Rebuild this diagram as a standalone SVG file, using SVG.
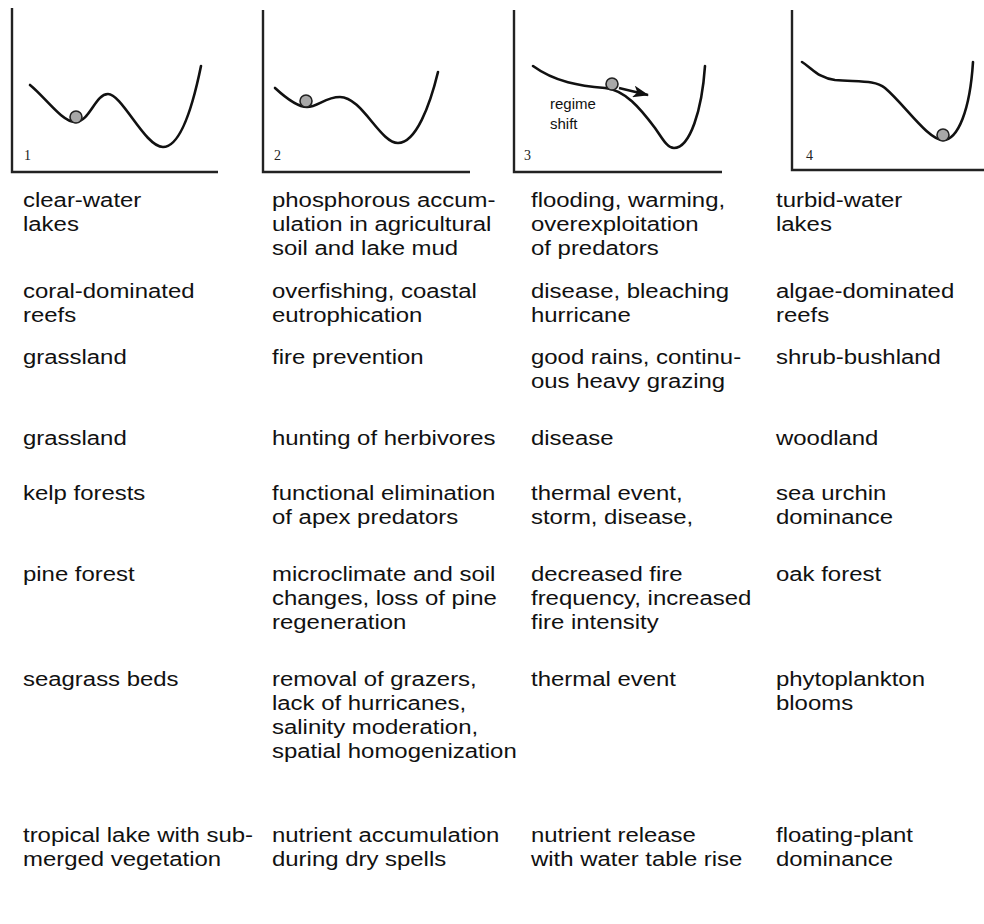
<svg xmlns="http://www.w3.org/2000/svg" width="984" height="924" viewBox="0 0 984 924">
<style>
.axis{fill:none;stroke:#222;stroke-width:2.4}
.curve{fill:none;stroke:#111;stroke-width:2.6;stroke-linecap:round;stroke-linejoin:round}
.ball{fill:#a8a8a8;stroke:#222;stroke-width:1.6}
.num{font-family:"Liberation Serif",serif;font-size:14px;fill:#222}
.t{font-family:"Liberation Sans",Arial,sans-serif;font-size:21px;fill:#111}
.small{font-family:"Liberation Sans",Arial,sans-serif;font-size:15px;fill:#111}
</style>
<defs>
<marker id="ah" markerWidth="16" markerHeight="12" refX="15" refY="6" orient="auto" markerUnits="userSpaceOnUse">
<path d="M0,0 L16,6 L0,12 L4,6 Z" fill="#111"/>
</marker>
</defs>
<rect width="984" height="924" fill="#fff"/>

<g id="panel1">
<path class="axis" d="M12,8 V172 H218"/>
<path class="curve" d="M30,85 C45,97 62,122 75,122 C90,122 95,94 108,94 C122,94 145,147 163,147 C180,147 192,110 201,66"/>
<circle class="ball" cx="76" cy="117" r="6"/>
<text class="num" x="24" y="160">1</text>
</g>

<g id="panel2">
<path class="axis" d="M263,10 V172 H470"/>
<path class="curve" d="M275,88 C288,100 298,107 307,107 C318,107 325,97 340,97 C362,97 380,143 398,143 C416,143 430,105 438,72"/>
<circle class="ball" cx="306" cy="101" r="6"/>
<text class="num" x="274" y="160">2</text>
</g>

<g id="panel3">
<path class="axis" d="M514,10 V172 H722"/>
<path class="curve" d="M533,66 C555,82 580,86 605,88 C625,90 640,108 655,128 C662,138 667,148 674,148 C690,148 702,110 705,66"/>
<circle class="ball" cx="612" cy="84" r="6"/>
<text class="small" x="550" y="109">regime</text>
<text class="small" x="550" y="129">shift</text>
<text class="num" x="524" y="160">3</text>
</g>

<g id="panel4">
<path class="axis" d="M792,10 V170 H984"/>
<path class="curve" d="M802,62 C812,68 818,78 835,80 C860,82 875,80 885,88 C905,105 928,140 943,140 C958,140 970,110 973,62"/>
<circle class="ball" cx="943" cy="135" r="6"/>
<text class="num" x="806" y="160">4</text>
</g>

<g id="connectors">
<path d="M619,88 L648,95" fill="none" stroke="#111" stroke-width="2.4" marker-end="url(#ah)"/>
</g>

<g id="row1">
<text class="t" transform="translate(23,207) scale(1.14,1)"><tspan x="0">clear-water</tspan><tspan x="0" dy="24">lakes</tspan></text>
<text class="t" transform="translate(272,207) scale(1.14,1)"><tspan x="0">phosphorous accum-</tspan><tspan x="0" dy="24">ulation in agricultural</tspan><tspan x="0" dy="24">soil and lake mud</tspan></text>
<text class="t" transform="translate(531,207) scale(1.14,1)"><tspan x="0">flooding, warming,</tspan><tspan x="0" dy="24">overexploitation</tspan><tspan x="0" dy="24">of predators</tspan></text>
<text class="t" transform="translate(776,207) scale(1.14,1)"><tspan x="0">turbid-water</tspan><tspan x="0" dy="24">lakes</tspan></text>
</g>
<g id="row2">
<text class="t" transform="translate(23,298) scale(1.14,1)"><tspan x="0">coral-dominated</tspan><tspan x="0" dy="24">reefs</tspan></text>
<text class="t" transform="translate(272,298) scale(1.14,1)"><tspan x="0">overfishing, coastal</tspan><tspan x="0" dy="24">eutrophication</tspan></text>
<text class="t" transform="translate(531,298) scale(1.14,1)"><tspan x="0">disease, bleaching</tspan><tspan x="0" dy="24">hurricane</tspan></text>
<text class="t" transform="translate(776,298) scale(1.14,1)"><tspan x="0">algae-dominated</tspan><tspan x="0" dy="24">reefs</tspan></text>
</g>
<g id="row3">
<text class="t" transform="translate(23,364) scale(1.14,1)">grassland</text>
<text class="t" transform="translate(272,364) scale(1.14,1)">fire prevention</text>
<text class="t" transform="translate(531,364) scale(1.14,1)"><tspan x="0">good rains, continu-</tspan><tspan x="0" dy="24">ous heavy grazing</tspan></text>
<text class="t" transform="translate(776,364) scale(1.14,1)">shrub-bushland</text>
</g>
<g id="row4">
<text class="t" transform="translate(23,445) scale(1.14,1)">grassland</text>
<text class="t" transform="translate(272,445) scale(1.14,1)">hunting of herbivores</text>
<text class="t" transform="translate(531,445) scale(1.14,1)">disease</text>
<text class="t" transform="translate(776,445) scale(1.14,1)">woodland</text>
</g>
<g id="row5">
<text class="t" transform="translate(23,500) scale(1.14,1)">kelp forests</text>
<text class="t" transform="translate(272,500) scale(1.14,1)"><tspan x="0">functional elimination</tspan><tspan x="0" dy="24">of apex predators</tspan></text>
<text class="t" transform="translate(531,500) scale(1.14,1)"><tspan x="0">thermal event,</tspan><tspan x="0" dy="24">storm, disease,</tspan></text>
<text class="t" transform="translate(776,500) scale(1.14,1)"><tspan x="0">sea urchin</tspan><tspan x="0" dy="24">dominance</tspan></text>
</g>
<g id="row6">
<text class="t" transform="translate(23,581) scale(1.14,1)">pine forest</text>
<text class="t" transform="translate(272,581) scale(1.14,1)"><tspan x="0">microclimate and soil</tspan><tspan x="0" dy="24">changes, loss of pine</tspan><tspan x="0" dy="24">regeneration</tspan></text>
<text class="t" transform="translate(531,581) scale(1.14,1)"><tspan x="0">decreased fire</tspan><tspan x="0" dy="24">frequency, increased</tspan><tspan x="0" dy="24">fire intensity</tspan></text>
<text class="t" transform="translate(776,581) scale(1.14,1)">oak forest</text>
</g>
<g id="row7">
<text class="t" transform="translate(23,686) scale(1.14,1)">seagrass beds</text>
<text class="t" transform="translate(272,686) scale(1.14,1)"><tspan x="0">removal of grazers,</tspan><tspan x="0" dy="24">lack of hurricanes,</tspan><tspan x="0" dy="24">salinity moderation,</tspan><tspan x="0" dy="24">spatial homogenization</tspan></text>
<text class="t" transform="translate(531,686) scale(1.14,1)">thermal event</text>
<text class="t" transform="translate(776,686) scale(1.14,1)"><tspan x="0">phytoplankton</tspan><tspan x="0" dy="24">blooms</tspan></text>
</g>
<g id="row8">
<text class="t" transform="translate(23,842) scale(1.14,1)"><tspan x="0">tropical lake with sub-</tspan><tspan x="0" dy="24">merged vegetation</tspan></text>
<text class="t" transform="translate(272,842) scale(1.14,1)"><tspan x="0">nutrient accumulation</tspan><tspan x="0" dy="24">during dry spells</tspan></text>
<text class="t" transform="translate(531,842) scale(1.14,1)"><tspan x="0">nutrient release</tspan><tspan x="0" dy="24">with water table rise</tspan></text>
<text class="t" transform="translate(776,842) scale(1.14,1)"><tspan x="0">floating-plant</tspan><tspan x="0" dy="24">dominance</tspan></text>
</g>
</svg>
